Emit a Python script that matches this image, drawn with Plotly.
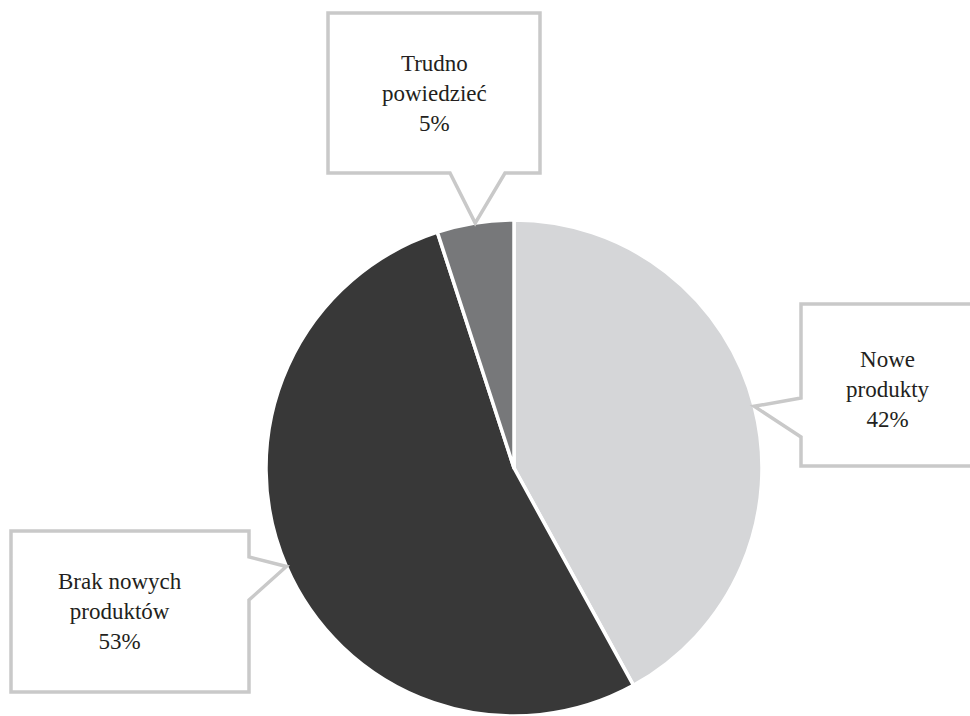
import math
import plotly.graph_objects as go

# Survey answers
labels = ["Nowe produkty", "Brak nowych produktów", "Trudno powiedzieć"]
values = [42, 53, 5]
callout_text = ["Nowe<br>produkty<br>42%", "Brak nowych<br>produktów<br>53%", "Trudno<br>powiedzieć<br>5%"]
colors = ["#d5d6d8", "#383838", "#77787a"]

W, H = 970, 716
CX, CY, R = 514, 468, 248  # pie centre and radius in pixels

fig = go.Figure(go.Pie(
    labels=labels,
    values=values,
    sort=False,
    direction="clockwise",
    rotation=0,
    marker=dict(colors=colors, line=dict(color="white", width=3.5)),
    textinfo="none",
    hoverinfo="label+percent",
    showlegend=False,
    domain=dict(x=[(CX - R) / W, (CX + R) / W], y=[1 - (CY + R) / H, 1 - (CY - R) / H]),
))


def px(x, y):
    return x / W, 1 - y / H


def slice_tip(i):
    """Point on the rim at the middle of slice i (angles clockwise from 12 o'clock)."""
    total = sum(values)
    start = sum(values[:i]) / total
    mid = (start + values[i] / total / 2) * 2 * math.pi
    return CX + R * math.sin(mid), CY - R * math.cos(mid)


def path(points):
    parts = []
    for k, (x, y) in enumerate(points):
        u, v = px(x, y)
        parts.append(("M" if k == 0 else "L") + f"{u:.5f},{v:.5f}")
    return " ".join(parts) + " Z"


# callout boxes: (left, top, right, bottom), side carrying the pointer, pointer base span
boxes = {
    0: dict(box=(801, 304, 990, 466), side="left", base=(398, 437), text=(888, 390)),
    1: dict(box=(11, 531, 249, 692), side="right", base=(557, 600), text=(120, 611)),
    2: dict(box=(328, 13, 540, 173), side="bottom", base=(450, 505), text=(434, 93)),
}

shapes = []
annotations = []
for i, b in boxes.items():
    l, t, r, btm = b["box"]
    tx, ty = slice_tip(i)
    b0, b1 = b["base"]
    if b["side"] == "left":
        pts = [(l, t), (r, t), (r, btm), (l, btm), (l, b1), (tx, ty), (l, b0)]
    elif b["side"] == "right":
        pts = [(l, t), (r, t), (r, b0), (tx, ty), (r, b1), (r, btm), (l, btm)]
    else:
        pts = [(l, t), (r, t), (r, btm), (b1, btm), (tx, ty), (b0, btm), (l, btm)]
    shapes.append(dict(type="path", path=path(pts), xref="paper", yref="paper",
                       line=dict(color="#c9c9c9", width=3.5), fillcolor="white", layer="above"))
    ax, ay = px(*b["text"])
    annotations.append(dict(x=ax, y=ay, xref="paper", yref="paper", text=callout_text[i],
                            showarrow=False, xanchor="center", yanchor="middle",
                            font=dict(family="Liberation Serif", size=23, color="#231f20")))

fig.update_layout(
    width=W, height=H,
    margin=dict(l=0, r=0, t=0, b=0),
    paper_bgcolor="white",
    plot_bgcolor="white",
    shapes=shapes,
    annotations=annotations,
)

fig.write_html("out.html")
